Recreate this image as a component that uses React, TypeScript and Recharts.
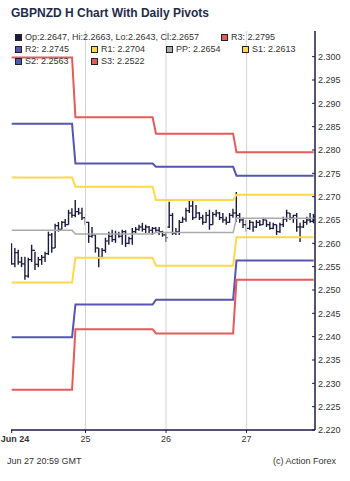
import React from "react";
import {
  ComposedChart,
  Bar,
  Line,
  XAxis,
  YAxis,
  ReferenceLine,
} from "recharts";

// hourly bars, hours counted from Jun 24 00:00 GMT
const START_HOUR = 2;
const opens = [
  2.2590, 2.2556, 2.2580, 2.2560, 2.2556, 2.2530, 2.2565, 2.2585, 2.2555, 2.2565,
  2.2570, 2.2578, 2.2618, 2.2590, 2.2638, 2.2630, 2.2645, 2.2640, 2.2665, 2.2660,
  2.2668, 2.2665, 2.2655, 2.2645, 2.2615, 2.2618, 2.2590, 2.2570, 2.2585, 2.2605,
  2.2615, 2.2608, 2.2620, 2.2615, 2.2625, 2.2600, 2.2610, 2.2625, 2.2630, 2.2635,
  2.2630, 2.2635, 2.2628, 2.2632, 2.2628, 2.2625, 2.2618, 2.2635, 2.2660, 2.2622,
  2.2625, 2.2645, 2.2652, 2.2670, 2.2680, 2.2655, 2.2665, 2.2655, 2.2645, 2.2660,
  2.2640, 2.2662, 2.2665, 2.2655, 2.2650, 2.2645, 2.2660, 2.2665, 2.2660, 2.2650,
  2.2640, 2.2632, 2.2645, 2.2635, 2.2645, 2.2640, 2.2650, 2.2640, 2.2632, 2.2640,
  2.2625, 2.2640, 2.2652, 2.2665, 2.2655, 2.2660, 2.2635, 2.2635, 2.2645, 2.2650,
  2.2647,
];
const highs = [
  2.2600, 2.2590, 2.2586, 2.2571, 2.2571, 2.2569, 2.2597, 2.2582, 2.2571, 2.2575,
  2.2582, 2.2625, 2.2622, 2.2642, 2.2646, 2.2648, 2.2652, 2.2672, 2.2675, 2.2693,
  2.2676, 2.2676, 2.2657, 2.2646, 2.2635, 2.2618, 2.2590, 2.2590, 2.2612, 2.2625,
  2.2629, 2.2627, 2.2625, 2.2629, 2.2628, 2.2614, 2.2633, 2.2635, 2.2640, 2.2644,
  2.2640, 2.2637, 2.2635, 2.2635, 2.2635, 2.2627, 2.2622, 2.2689, 2.2665, 2.2633,
  2.2650, 2.2657, 2.2676, 2.2693, 2.2693, 2.2682, 2.2667, 2.2661, 2.2667, 2.2672,
  2.2667, 2.2672, 2.2667, 2.2665, 2.2657, 2.2665, 2.2674, 2.2710, 2.2665, 2.2655,
  2.2650, 2.2650, 2.2646, 2.2650, 2.2650, 2.2655, 2.2650, 2.2646, 2.2644, 2.2640,
  2.2644, 2.2657, 2.2672, 2.2665, 2.2661, 2.2665, 2.2644, 2.2650, 2.2657, 2.2665,
  2.2663,
];
const lows = [
  2.2554, 2.2549, 2.2554, 2.2549, 2.2522, 2.2526, 2.2560, 2.2543, 2.2549, 2.2554,
  2.2560, 2.2575, 2.2580, 2.2590, 2.2625, 2.2630, 2.2635, 2.2640, 2.2655, 2.2656,
  2.2661, 2.2650, 2.2640, 2.2601, 2.2612, 2.2580, 2.2549, 2.2568, 2.2580, 2.2597,
  2.2603, 2.2601, 2.2612, 2.2597, 2.2592, 2.2598, 2.2597, 2.2622, 2.2627, 2.2625,
  2.2622, 2.2622, 2.2618, 2.2625, 2.2618, 2.2614, 2.2603, 2.2633, 2.2618, 2.2618,
  2.2618, 2.2644, 2.2646, 2.2665, 2.2650, 2.2655, 2.2650, 2.2640, 2.2644, 2.2629,
  2.2640, 2.2657, 2.2650, 2.2644, 2.2640, 2.2644, 2.2655, 2.2646, 2.2644, 2.2633,
  2.2625, 2.2629, 2.2625, 2.2633, 2.2637, 2.2640, 2.2635, 2.2629, 2.2630, 2.2618,
  2.2622, 2.2635, 2.2646, 2.2650, 2.2644, 2.2625, 2.2603, 2.2633, 2.2640, 2.2644,
  2.2643,
];
const closes = [
  2.2556, 2.2580, 2.2560, 2.2556, 2.2530, 2.2565, 2.2585, 2.2555, 2.2565, 2.2570,
  2.2578, 2.2618, 2.2590, 2.2638, 2.2630, 2.2645, 2.2640, 2.2665, 2.2660, 2.2668,
  2.2665, 2.2655, 2.2645, 2.2615, 2.2618, 2.2590, 2.2570, 2.2585, 2.2605, 2.2615,
  2.2608, 2.2620, 2.2615, 2.2625, 2.2600, 2.2610, 2.2625, 2.2630, 2.2635, 2.2630,
  2.2635, 2.2628, 2.2632, 2.2628, 2.2625, 2.2618, 2.2612, 2.2660, 2.2622, 2.2625,
  2.2645, 2.2652, 2.2670, 2.2680, 2.2655, 2.2665, 2.2655, 2.2645, 2.2660, 2.2640,
  2.2662, 2.2665, 2.2655, 2.2650, 2.2645, 2.2660, 2.2665, 2.2660, 2.2650, 2.2640,
  2.2632, 2.2645, 2.2635, 2.2645, 2.2640, 2.2650, 2.2640, 2.2632, 2.2640, 2.2625,
  2.2640, 2.2652, 2.2665, 2.2655, 2.2660, 2.2635, 2.2635, 2.2645, 2.2650, 2.2647,
  2.2657,
];

// daily pivot sets; a new set starts at 21:00 GMT
const pivotStartHours = [0, 21, 45, 69];
const r3 = [2.2998, 2.2870, 2.2835, 2.2795];
const r2 = [2.2856, 2.2771, 2.2764, 2.2745];
const r1 = [2.2741, 2.2721, 2.2693, 2.2704];
const pp = [2.2628, 2.2620, 2.2623, 2.2654];
const s1 = [2.2516, 2.2569, 2.2552, 2.2613];
const s2 = [2.2399, 2.2469, 2.2479, 2.2563];
const s3 = [2.2286, 2.2416, 2.2407, 2.2522];

const xTicks = [2, 24, 48, 72];
const xTickLabels = ["Jun 24", "25", "26", "27"];
const dayLines = [24, 48, 72];
const yTicks = [
  2.22, 2.225, 2.23, 2.235, 2.24, 2.245, 2.25, 2.255, 2.26, 2.265, 2.27, 2.275,
  2.28, 2.285, 2.29, 2.295, 2.3,
];

const data = opens.map((o, i) => {
  const t = START_HOUR + i;
  let k = 0;
  pivotStartHours.forEach((h, j) => {
    if (t >= h) k = j;
  });
  return {
    t,
    o,
    h: highs[i],
    l: lows[i],
    c: closes[i],
    r3: r3[k],
    r2: r2[k],
    r1: r1[k],
    pp: pp[k],
    s1: s1[k],
    s2: s2[k],
    s3: s3[k],
  };
});

const AX = "#1b1b48";
const BAR = "#1a1a40";
const RED = "#e65a5c";
const BLUE = "#5656b0";
const YEL = "#ffd84c";
const GRAY = "#aaaaaa";
const FONT = "'Liberation Sans', Arial, sans-serif";

const OhlcShape = (props: any) => {
  const { x, y, width, height, payload } = props;
  if (payload == null || height == null) return null;
  const cx = x + width / 2;
  const span = payload.h - payload.l;
  const yOf = (p: number) => (span > 0 ? y + ((payload.h - p) / span) * height : y);
  return (
    <g>
      <line x1={cx} y1={y} x2={cx} y2={y + height} stroke={BAR} strokeWidth={1.4} />
      <line x1={cx - 1.8} y1={yOf(payload.o)} x2={cx} y2={yOf(payload.o)} stroke={BAR} strokeWidth={1.2} />
      <line x1={cx} y1={yOf(payload.c)} x2={cx + 1.8} y2={yOf(payload.c)} stroke={BAR} strokeWidth={1.2} />
    </g>
  );
};

const YTick = (props: any) => {
  const { x, y, payload } = props;
  return (
    <g>
      <line x1={x - 6} y1={y} x2={x - 3} y2={y} stroke={AX} strokeWidth={1} />
      <text x={x} y={y} dy="0.355em" fontSize={9} fill="#333" textAnchor="start" fontFamily={FONT}>
        {Number(payload.value).toFixed(3)}
      </text>
    </g>
  );
};

const XTick = (props: any) => {
  const { x, y, payload, index } = props;
  const idx = xTicks.indexOf(payload.value);
  const first = idx === 0;
  return (
    <text
      x={first ? x - 11 : x}
      y={y}
      dy="0.71em"
      fontSize={9}
      fill="#333"
      textAnchor={first ? "start" : "middle"}
      fontWeight={first ? "bold" : "normal"}
      fontFamily={FONT}
    >
      {xTickLabels[idx >= 0 ? idx : index]}
    </text>
  );
};

const Swatch = ({ color, left, top }: { color: string; left: number; top: number }) => (
  <div
    style={{
      position: "absolute",
      left,
      top,
      width: 5,
      height: 5,
      background: color,
      border: "1px solid #222",
    }}
  />
);

const LegendItem = ({ color, left, top, text }: { color: string; left: number; top: number; text: string }) => (
  <>
    <Swatch color={color} left={left} top={top - 3.5} />
    <div
      style={{
        position: "absolute",
        left: left + 10,
        top: top - 6,
        fontSize: 9,
        lineHeight: "12px",
        color: "#333",
        whiteSpace: "nowrap",
      }}
    >
      {text}
    </div>
  </>
);

const last = data[data.length - 1];

export default function App() {
  const domainY: [number, number] = [2.22, 2.3055];
  const domainX: [number, number] = [1.8, 92.4];
  return (
    <div
      style={{
        position: "absolute",
        left: 0,
        top: 0,
        width: 350,
        height: 481,
        background: "#fff",
        fontFamily: FONT,
        overflow: "hidden",
      }}
    >
      <ComposedChart
        width={350}
        height={481}
        data={data}
        margin={{ top: 31, right: 0, bottom: 31, left: 11 }}
      >
        <XAxis
          dataKey="t"
          type="number"
          domain={domainX}
          allowDataOverflow
          ticks={xTicks}
          tick={<XTick />}
          tickSize={3}
          tickMargin={3}
          height={20}
          axisLine={{ stroke: AX, strokeWidth: 1.5 }}
          tickLine={{ stroke: AX }}
        />
        <XAxis
          xAxisId="top"
          dataKey="t"
          type="number"
          orientation="top"
          domain={domainX}
          allowDataOverflow
          height={0}
          tick={false}
          tickLine={false}
          axisLine={{ stroke: AX, strokeWidth: 1.5 }}
        />
        <YAxis
          orientation="right"
          domain={domainY}
          allowDataOverflow
          ticks={yTicks}
          width={35}
          tickSize={0}
          tickMargin={3}
          tickLine={false}
          tick={<YTick />}
          axisLine={{ stroke: AX, strokeWidth: 1.5 }}
          interval={0}
        />
        <YAxis
          yAxisId="l"
          orientation="left"
          domain={domainY}
          allowDataOverflow
          width={0}
          tick={false}
          tickLine={false}
          axisLine={{ stroke: AX, strokeWidth: 2 }}
        />
        {dayLines.map((d) => (
          <ReferenceLine key={d} x={d} stroke="#d4d4d4" strokeWidth={1} />
        ))}
        <Line dataKey="r3" type="linear" stroke={RED} strokeWidth={2} dot={false} isAnimationActive={false} />
        <Line dataKey="r2" type="linear" stroke={BLUE} strokeWidth={2} dot={false} isAnimationActive={false} />
        <Line dataKey="r1" type="linear" stroke={YEL} strokeWidth={2} dot={false} isAnimationActive={false} />
        <Line dataKey="pp" type="linear" stroke={GRAY} strokeWidth={1.5} dot={false} isAnimationActive={false} />
        <Line dataKey="s1" type="linear" stroke={YEL} strokeWidth={2} dot={false} isAnimationActive={false} />
        <Line dataKey="s2" type="linear" stroke={BLUE} strokeWidth={2} dot={false} isAnimationActive={false} />
        <Line dataKey="s3" type="linear" stroke={RED} strokeWidth={2} dot={false} isAnimationActive={false} />
        <Bar
          dataKey={(d: any) => [d.l, d.h]}
          barSize={3}
          shape={<OhlcShape />}
          isAnimationActive={false}
        />
      </ComposedChart>

      <div
        style={{
          position: "absolute",
          left: 11,
          top: 6,
          fontSize: 12,
          fontWeight: "bold",
          color: "#1f2b4d",
          whiteSpace: "nowrap",
        }}
      >
        GBPNZD H Chart With Daily Pivots
      </div>

      <LegendItem
        color={BAR}
        left={15}
        top={37}
        text={`Op:${last.o.toFixed(4)}, Hi:${last.h.toFixed(4)}, Lo:${last.l.toFixed(4)}, Cl:${last.c.toFixed(4)}`}
      />
      <LegendItem color={RED} left={221} top={37} text={`R3: ${last.r3.toFixed(4)}`} />
      <LegendItem color={BLUE} left={15} top={49} text={`R2: ${last.r2.toFixed(4)}`} />
      <LegendItem color={YEL} left={91} top={49} text={`R1: ${last.r1.toFixed(4)}`} />
      <LegendItem color={GRAY} left={166} top={49} text={`PP: ${last.pp.toFixed(4)}`} />
      <LegendItem color={YEL} left={242} top={49} text={`S1: ${last.s1.toFixed(4)}`} />
      <LegendItem color={BLUE} left={15} top={61} text={`S2: ${last.s2.toFixed(4)}`} />
      <LegendItem color={RED} left={91} top={61} text={`S3: ${last.s3.toFixed(4)}`} />

      <div style={{ position: "absolute", left: 7, top: 456, fontSize: 9, color: "#333", whiteSpace: "nowrap" }}>
        Jun 27 20:59 GMT
      </div>
      <div style={{ position: "absolute", right: 14, top: 456, fontSize: 9, color: "#333", whiteSpace: "nowrap" }}>
        (c) Action Forex
      </div>
    </div>
  );
}
